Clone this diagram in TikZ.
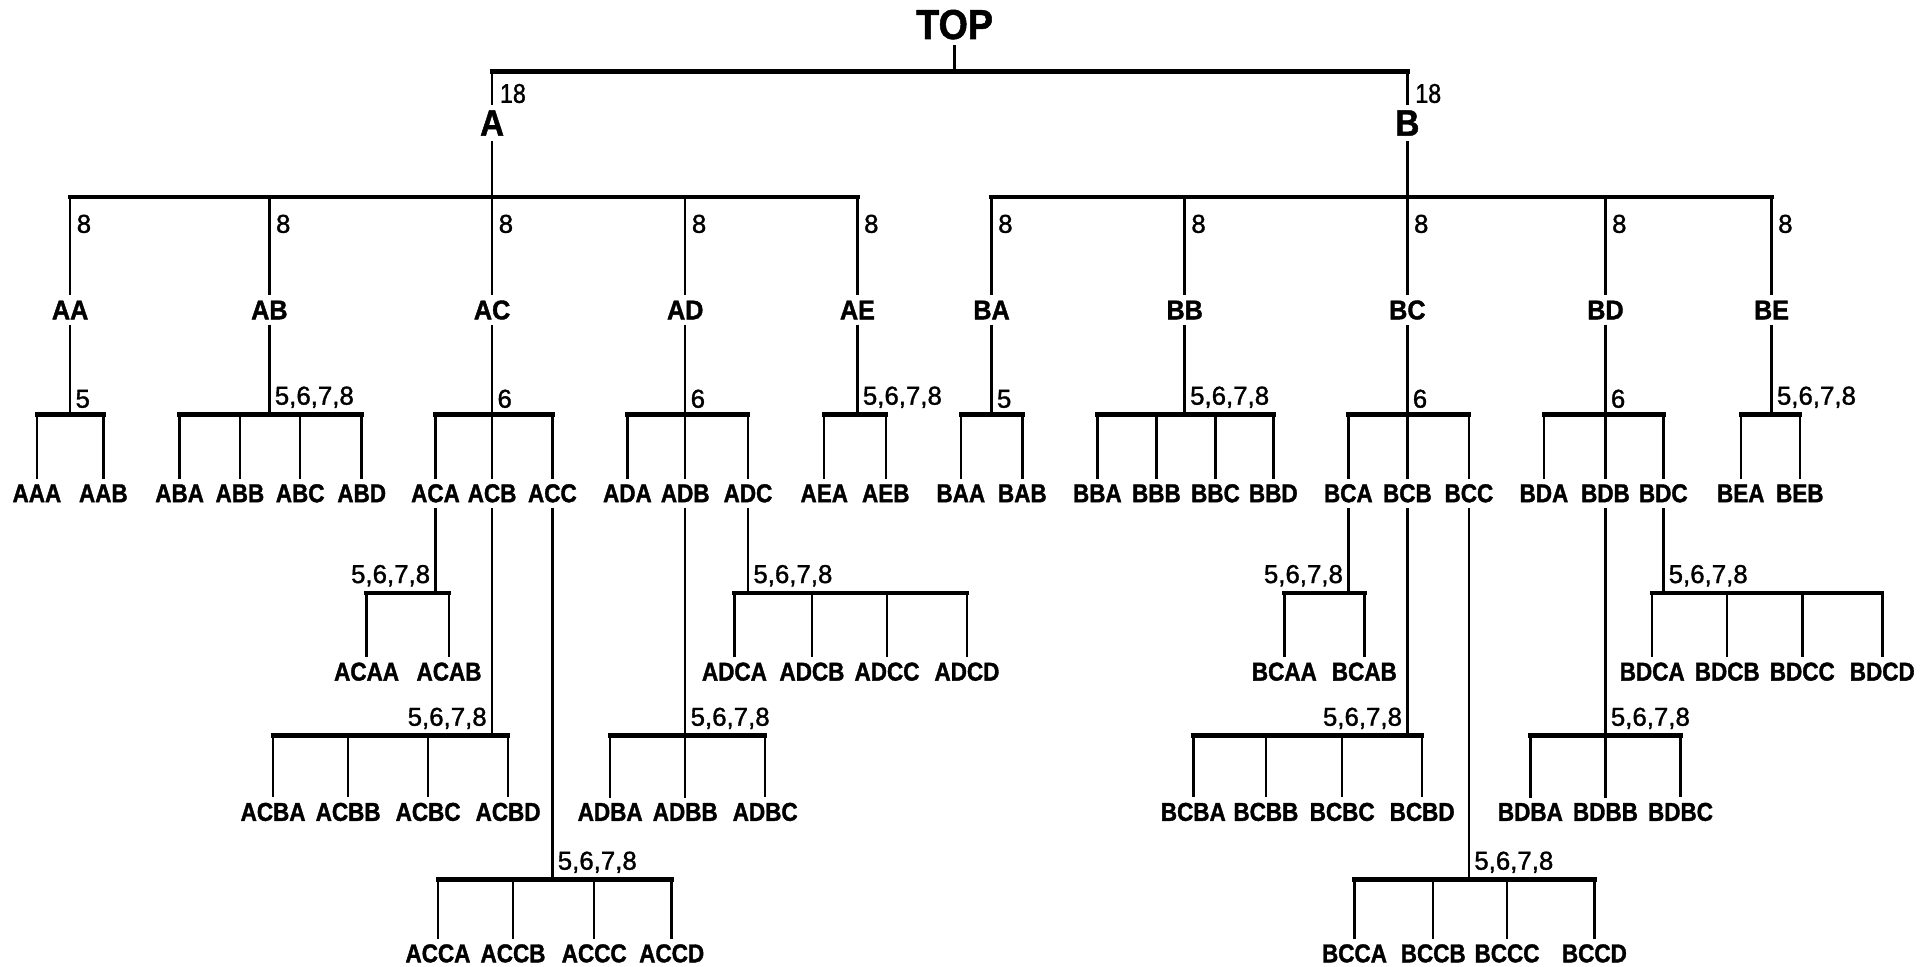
\documentclass[tikz,border=0pt]{standalone}
\usepackage{fontspec}
\setmainfont{Liberation Sans}
\newfontfamily\condfont[FakeStretch=0.87,FakeBold=1.4]{Liberation Sans Bold}
\newfontfamily\midfont[FakeStretch=0.93,FakeBold=1.4]{Liberation Sans Bold}
\newfontfamily\bigfont[FakeStretch=0.9,FakeBold=1.2]{Liberation Sans Bold}
\newfontfamily\numfont[FakeBold=1.3]{Liberation Sans}
\newfontfamily\numcfont[FakeStretch=0.86,FakeBold=1.3]{Liberation Sans}
\tikzset{
  leaf/.style={font=\condfont\fontsize{10.5}{12}\selectfont, inner sep=2pt},
  mid/.style={font=\midfont\fontsize{11}{13}\selectfont, inner sep=2pt},
  big/.style={font=\bigfont\fontsize{15}{17}\selectfont, inner sep=2pt},
  topn/.style={font=\bigfont\fontsize{17}{19}\selectfont, inner sep=2pt},
  num/.style={font=\numfont\fontsize{10.5}{12}\selectfont, inner sep=1pt},
  numc/.style={font=\numcfont\fontsize{11}{12}\selectfont, inner sep=1pt},
  bar/.style={line width=1.8pt, line cap=rect},
  vl/.style={line width=1pt}
}
\begin{document}
\begin{tikzpicture}[x=0.5pt,y=-0.5pt]
\useasboundingbox (0,0) rectangle (1568,786);
% ---------- top levels
\node[topn] (TOP) at (776,20) {TOP};
\node[big] (A) at (400,100) {A};
\node[big] (B) at (1144,100) {B};
\coordinate (b0) at (0,58);
\draw[bar] (A |- b0) -- (B |- b0);
\draw[vl] (TOP.south) -- (TOP |- b0);
\draw[vl] (A |- b0) -- (A.north);
\draw[vl] (B |- b0) -- (B.north);
\node[numc, anchor=west] (n18a) at (404,76) {18};
\node[numc, anchor=west] (n18b) at (1148,76) {18};
% ---------- level 1
\foreach \n/\x in {AA/57,AB/219,AC/400,AD/557,AE/697,BA/806,BB/963,BC/1144,BD/1305,BE/1440}
  \node[mid] (\n) at (\x,252) {\n};
\coordinate (bA) at (0,160);
\draw[bar] (AA |- bA) -- (AE |- bA);
\draw[vl] (A.south) -- (A |- bA);
\foreach \c in {AA,AB,AC,AD,AE} \draw[vl] (\c |- bA) -- (\c.north);
\draw[bar] (BA |- bA) -- (BE |- bA);
\draw[vl] (B.south) -- (B |- bA);
\foreach \c in {BA,BB,BC,BD,BE} \draw[vl] (\c |- bA) -- (\c.north);
\foreach \x [count=\i] in {57,219,400,557,697,806,963,1144,1305,1440}
  \node[num, anchor=west] (n8-\i) at (\x+3,182) {8};
% ---------- level 2 leaves
\foreach \n/\x in {AAA/30,AAB/84,ABA/146,ABB/195,ABC/244,ABD/294,ACA/354,ACB/400,ACC/449,
  ADA/510,ADB/557,ADC/608,AEA/670,AEB/720,BAA/781,BAB/831,BBA/892,BBB/940,BBC/988,BBD/1035,
  BCA/1096,BCB/1144,BCC/1194,BDA/1255,BDB/1305,BDC/1352,BEA/1415,BEB/1463}
  \node[leaf] (\n) at (\x,401) {\n};
\coordinate (b2) at (0,337);
\foreach \p/\f/\l/\lst/\t in {AA/AAA/AAB/{AAA,AAB}/5, AB/ABA/ABD/{ABA,ABB,ABC,ABD}/{5,6,7,8},
  AC/ACA/ACC/{ACA,ACB,ACC}/6, AD/ADA/ADC/{ADA,ADB,ADC}/6, AE/AEA/AEB/{AEA,AEB}/{5,6,7,8},
  BA/BAA/BAB/{BAA,BAB}/5, BB/BBA/BBD/{BBA,BBB,BBC,BBD}/{5,6,7,8},
  BC/BCA/BCC/{BCA,BCB,BCC}/6, BD/BDA/BDC/{BDA,BDB,BDC}/6, BE/BEA/BEB/{BEA,BEB}/{5,6,7,8}}{
  \draw[bar] (\f |- b2) -- (\l |- b2);
  \draw[vl] (\p.south) -- (\p |- b2);
  \foreach \c in \lst \draw[vl] (\c |- b2) -- (\c.north);
  \node[num, anchor=south west] (t-\p) at ([xshift=1pt,yshift=1.5pt]\p |- b2) {\t};
}
% ---------- level 3 leaves
\foreach \n/\x/\y in {ACAA/298/546,ACAB/365/546,ADCA/597/546,ADCB/660/546,ADCC/721/546,ADCD/786/546,
  BCAA/1044/546,BCAB/1109/546,BDCA/1343/546,BDCB/1404/546,BDCC/1465/546,BDCD/1530/546,
  ACBA/222/660,ACBB/283/660,ACBC/348/660,ACBD/413/660,ADBA/496/660,ADBB/557/660,ADBC/622/660,
  BCBA/970/660,BCBB/1029/660,BCBC/1091/660,BCBD/1156/660,BDBA/1244/660,BDBB/1305/660,BDBC/1366/660,
  ACCA/356/775,ACCB/417/775,ACCC/483/775,ACCD/546/775,BCCA/1101/775,BCCB/1165/775,BCCC/1225/775,BCCD/1296/775}
  \node[leaf] (\n) at (\x,\y) {\n};
\foreach \p/\by/\f/\l/\lst/\side in {
  ACA/482/ACAA/ACAB/{ACAA,ACAB}/L, ADC/482/ADCA/ADCD/{ADCA,ADCB,ADCC,ADCD}/R,
  BCA/482/BCAA/BCAB/{BCAA,BCAB}/L, BDC/482/BDCA/BDCD/{BDCA,BDCB,BDCC,BDCD}/R,
  ACB/598/ACBA/ACBD/{ACBA,ACBB,ACBC,ACBD}/L, ADB/598/ADBA/ADBC/{ADBA,ADBB,ADBC}/R,
  BCB/598/BCBA/BCBD/{BCBA,BCBB,BCBC,BCBD}/L, BDB/598/BDBA/BDBC/{BDBA,BDBB,BDBC}/R,
  ACC/715/ACCA/ACCD/{ACCA,ACCB,ACCC,ACCD}/R, BCC/715/BCCA/BCCD/{BCCA,BCCB,BCCC,BCCD}/R}{
  \coordinate (b3-\p) at (0,\by);
  \draw[bar] (\f |- b3-\p) -- (\l |- b3-\p);
  \draw[vl] (\p.south) -- (\p |- b3-\p);
  \foreach \c in \lst \draw[vl] (\c |- b3-\p) -- (\c.north);
  \if\side L
    \node[num, anchor=south east] (t-\p) at ([xshift=-1pt,yshift=1.5pt]\p |- b3-\p) {5,6,7,8};
  \else
    \node[num, anchor=south west] (t-\p) at ([xshift=1pt,yshift=1.5pt]\p |- b3-\p) {5,6,7,8};
  \fi
}
\end{tikzpicture}
\end{document}
